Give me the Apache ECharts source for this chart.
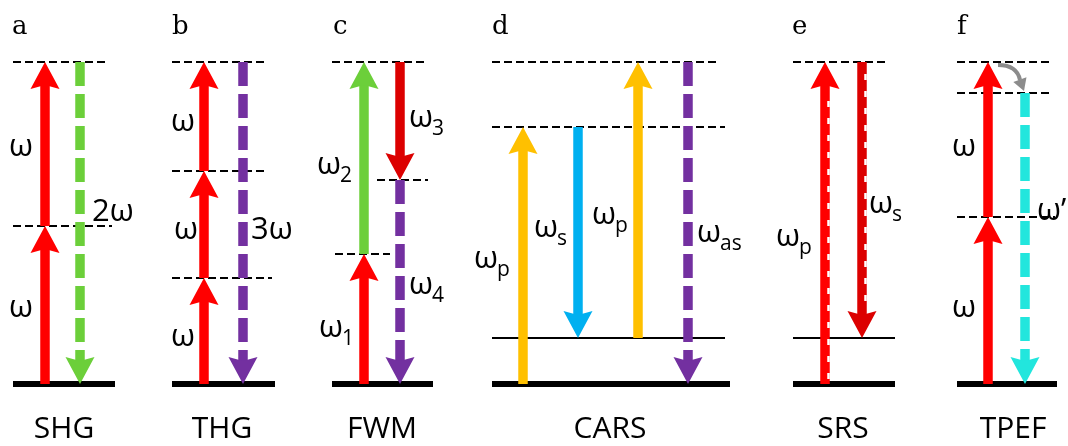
<!DOCTYPE html>
<html><head><meta charset="utf-8">
<script src="https://cdn.jsdelivr.net/npm/echarts@6/dist/echarts.min.js"></script>
<style>html,body{margin:0;padding:0;background:#fff}#c{width:1068px;height:446px}</style>
</head><body><div id="c"></div>
<script>
// ---- DATA (x = horizontal position, E = energy above ground state) ----
const panelLetters = ['a', 'b', 'c', 'd', 'e', 'f'];
const panelLetterX = [12, 172, 333, 492, 792, 957];
const panelNames = ['SHG', 'THG', 'FWM', 'CARS', 'SRS', 'TPEF'];
const panelNameX = [64, 222, 382, 610, 843, 1013];

// levels: [xStart, xEnd, E, kind]  kind 0 = ground, 1 = real excited, 2 = virtual
const levels = [
  [13, 108, 322, 2], [13, 112, 158, 2], [13, 115, 0, 0],
  [172, 268, 322, 2], [172, 268, 213, 2], [172, 272, 106, 2], [172, 275, 0, 0],
  [332, 427, 322, 2], [377, 428, 204, 2], [335, 390, 130, 2], [332, 433, 0, 0],
  [492, 718, 322, 2], [492, 725, 257, 2], [492, 725, 46, 1], [492, 730, 0, 0],
  [793, 888, 322, 2], [793, 895, 46, 1], [793, 895, 0, 0],
  [957, 1052, 322, 2], [957, 1052, 291, 2], [957, 1055, 167, 2], [957, 1057, 0, 0]
];

// arrows: [x, Efrom, Eto, beam, kind]  kind 0 = solid, 1 = dashed (emitted), 2 = stimulated
const arrows = [
  [45, 0, 158, 'red', 0], [45, 158, 322, 'red', 0], [80, 322, 0, 'green', 1],
  [204, 0, 106, 'red', 0], [204, 106, 213, 'red', 0], [204, 213, 322, 'red', 0], [243, 322, 0, 'purple', 1],
  [364, 0, 130, 'red', 0], [364, 130, 322, 'green', 0], [400, 322, 204, 'darkred', 0], [400, 204, 0, 'purple', 1],
  [523, 0, 257, 'orange', 0], [578, 257, 46, 'blue', 0], [638, 46, 322, 'orange', 0], [688, 322, 0, 'purple', 1],
  [825, 0, 322, 'red', 2], [862, 322, 46, 'darkred', 2],
  [988, 0, 167, 'red', 0], [988, 167, 322, 'red', 0], [1025, 291, 0, 'cyan', 1]
];

// relaxation (curved) arrow in TPEF: start, control, end, tip  [x, E]
const relaxation = [[998, 319], [1017, 319], [1020, 304], [1024, 293]];

// labels: [xLeft, E, main, subscript]
const labels = [
  [9, 237, 'ω', ''], [9, 76, 'ω', ''], [92, 172, '2ω', ''],
  [171, 262, 'ω', ''], [174, 154, 'ω', ''], [171, 47, 'ω', ''], [251, 154, '3ω', ''],
  [409, 266, 'ω', '3'], [317, 219, 'ω', '2'], [409, 99, 'ω', '4'], [319, 56, 'ω', '1'],
  [474, 125, 'ω', 'p'], [534, 156, 'ω', 's'], [592, 169, 'ω', 'p'], [697, 151, 'ω', 'as'],
  [776, 147, 'ω', 'p'], [869, 180, 'ω', 's'],
  [952, 237, 'ω', ''], [952, 76, 'ω', ''], [1037, 173, 'ω’', '']
];

// ---- STYLES ----
const COLORS = {red: '#ff0000', darkred: '#dc0000', green: '#6ccf3a', purple: '#7330a0',
  orange: '#ffc000', blue: '#00b0f0', cyan: '#22e6dd'};
const LEVEL_STYLE = [{w: 6, dash: null}, {w: 2, dash: null}, {w: 2, dash: [8, 4]}];
const FONT = '"Open Sans", "Noto Sans", sans-serif';
const W_FONT = 31, SUB_FONT = 21;
const SHAFT = 9.5, HEAD_L = 27, HEAD_W = 14.5, NOTCH = 4;

const measureCtx = document.createElement('canvas').getContext('2d');
function textWidth(t, size) { measureCtx.font = size + 'px ' + FONT; return measureCtx.measureText(t).width; }

function renderLevel(params, api) {
  const l = levels[params.dataIndex];
  const p1 = api.coord([l[0], l[2]]), p2 = api.coord([l[1], l[2]]);
  const st = LEVEL_STYLE[l[3]];
  return {type: 'line', shape: {x1: p1[0], y1: p1[1], x2: p2[0], y2: p2[1]},
    style: {stroke: '#000', lineWidth: st.w, lineDash: st.dash, lineCap: 'butt'}};
}

function renderArrow(params, api) {
  const a = arrows[params.dataIndex];
  const s = api.coord([a[0], a[1]]), t = api.coord([a[0], a[2]]);
  const dir = t[1] > s[1] ? 1 : -1;
  const baseY = t[1] - dir * HEAD_L, notchY = t[1] - dir * (HEAD_L - NOTCH);
  const col = COLORS[a[3]];
  const children = [
    {type: 'line', shape: {x1: s[0], y1: s[1], x2: s[0], y2: notchY},
      style: {stroke: col, lineWidth: SHAFT, lineDash: a[4] === 1 ? [24, 8] : null, lineCap: 'butt'}},
    {type: 'polygon', shape: {points: [[t[0], t[1]], [t[0] + HEAD_W, baseY], [t[0], notchY], [t[0] - HEAD_W, baseY]]},
      style: {fill: col}}
  ];
  if (a[4] === 2) {
    const y2 = dir > 0 ? baseY : s[1];
    const y1 = dir > 0 ? s[1] : baseY;
    children.push({type: 'line', shape: {x1: s[0] + 3.5, y1: y1 + 12, x2: s[0] + 3.5, y2: y2 - 4},
      style: {stroke: '#fff', lineWidth: 2.5, lineDash: [6, 11], lineCap: 'butt'}});
  }
  return {type: 'group', children: children};
}

function renderRelax(params, api) {
  const p = relaxation.map(q => api.coord(q));
  const dx = p[3][0] - p[2][0], dy = p[3][1] - p[2][1];
  const len = Math.hypot(dx, dy), ux = dx / len, uy = dy / len;
  const hb = [p[3][0] - ux * 12, p[3][1] - uy * 12];
  const hw = 7;
  return {type: 'group', children: [
    {type: 'bezierCurve', shape: {x1: p[0][0], y1: p[0][1], cpx1: p[1][0], cpy1: p[1][1], x2: p[2][0], y2: p[2][1]},
      style: {stroke: '#8c8c8c', lineWidth: 4, fill: null}},
    {type: 'polygon', shape: {points: [p[3], [hb[0] - uy * hw, hb[1] + ux * hw], [hb[0] + uy * hw, hb[1] - ux * hw]]},
      style: {fill: '#8c8c8c'}}
  ]};
}

function renderLabel(params, api) {
  const l = labels[params.dataIndex];
  const p = api.coord([l[0], l[1]]);
  const children = [{type: 'text', x: p[0], y: p[1],
    style: {text: l[2], font: W_FONT + 'px ' + FONT, fill: '#000', align: 'left', verticalAlign: 'middle'}}];
  if (l[3]) {
    children.push({type: 'text', x: p[0] + textWidth(l[2], W_FONT) - 1, y: p[1] + 11,
      style: {text: l[3], font: SUB_FONT + 'px ' + FONT, fill: '#000', align: 'left', verticalAlign: 'middle'}});
  }
  return {type: 'group', children: children};
}

function renderLetter(params, api) {
  const p = api.coord([panelLetterX[params.dataIndex], 357]);
  return {type: 'text', x: p[0], y: p[1],
    style: {text: panelLetters[params.dataIndex], font: '26px "DejaVu Serif", "Liberation Serif", serif', fill: '#000', align: 'left', verticalAlign: 'middle'}};
}

function renderName(params, api) {
  const p = api.coord([panelNameX[params.dataIndex], -45]);
  return {type: 'text', x: p[0], y: p[1],
    style: {text: panelNames[params.dataIndex], font: '30px ' + FONT, fill: '#000', align: 'center', verticalAlign: 'middle'}};
}

const chart = echarts.init(document.getElementById('c'), null, {renderer: 'canvas'});
chart.setOption({
  animation: false,
  backgroundColor: '#fff',
  grid: {left: 0, right: 0, top: 0, bottom: 0},
  xAxis: {type: 'value', min: 0, max: 1068, show: false},
  yAxis: {type: 'value', min: -62, max: 384, show: false},
  series: [
    {type: 'custom', renderItem: renderLevel, data: levels.map(l => [l[0], l[2]]), silent: true},
    {type: 'custom', renderItem: renderArrow, data: arrows.map(a => [a[0], a[1], a[2]]), silent: true},
    {type: 'custom', renderItem: renderRelax, data: [relaxation[0]], silent: true},
    {type: 'custom', renderItem: renderLabel, data: labels.map(l => [l[0], l[1]]), silent: true},
    {type: 'custom', renderItem: renderLetter, data: panelLetterX.map(x => [x, 357]), silent: true},
    {type: 'custom', renderItem: renderName, data: panelNameX.map(x => [x, -45]), silent: true}
  ]
});
</script></body></html>
